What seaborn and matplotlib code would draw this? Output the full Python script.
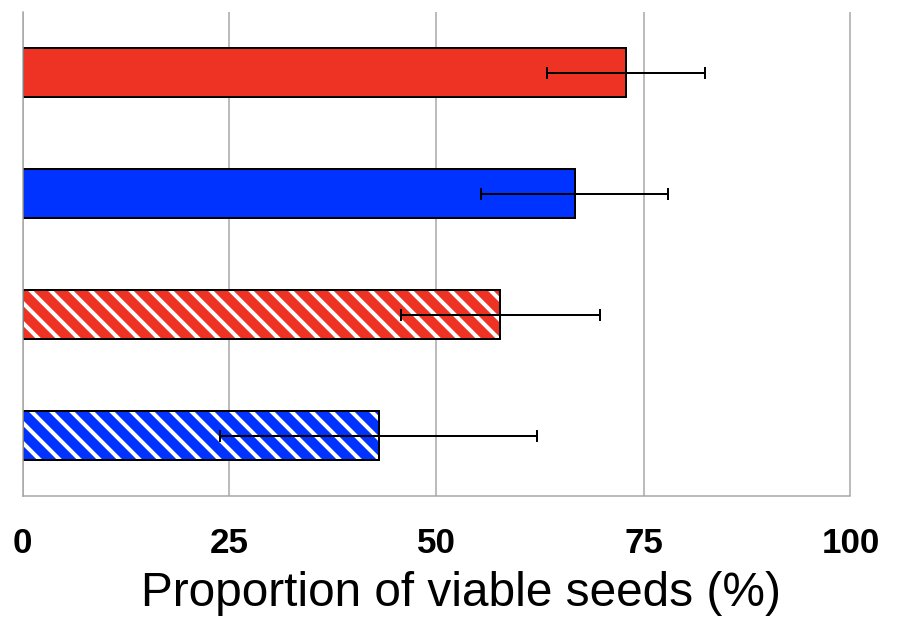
import matplotlib
matplotlib.use("Agg")
import matplotlib.pyplot as plt
import pandas as pd
import seaborn as sns

# Mean proportion of viable seeds per group, with error half-widths
groups = ["Red, untreated", "Blue, untreated", "Red, treated", "Blue, treated"]
viable = [72.9, 66.7, 57.7, 43.0]
err = [9.5, 11.3, 12.0, 19.1]
colors = ["#EE3224", "#0033FF", "#EE3224", "#0033FF"]
hatched = [False, False, True, True]
xticks = [0, 25, 50, 75, 100]
xlabel = "Proportion of viable seeds (%)"

DPI = 120
W, H = 897, 618
GRAY = "#A6A6A6"


def pt(px):
    """Convert a size in output pixels to points."""
    return px * 72 / DPI


sns.set_theme(style="white")
plt.rcParams["font.family"] = ["Liberation Sans", "DejaVu Sans"]
plt.rcParams["hatch.linewidth"] = pt(4.0)
plt.rcParams["text.color"] = "black"
plt.rcParams["axes.labelcolor"] = "black"

fig = plt.figure(figsize=(W / DPI, H / DPI), dpi=DPI)
ax = fig.add_axes([22.5 / W, 122 / H, 828 / W, 484 / H])

df = pd.DataFrame({"group": groups, "viable": viable})
sns.barplot(data=df, x="viable", y="group", hue="group", palette=colors,
            saturation=1, width=0.4, orient="h", legend=False, ax=ax,
            edgecolor="black", linewidth=pt(2), zorder=2)

# Striped bars: white diagonal hatch over the fill, black outline on top
for cont, h in zip(ax.containers, hatched):
    if not h:
        continue
    for bar in cont:
        bar.set_hatch("\\\\")
        bar.set_edgecolor("white")
        bar.set_linewidth(0)
        ax.add_patch(plt.Rectangle(bar.get_xy(), bar.get_width(), bar.get_height(),
                                   fill=False, edgecolor="black", linewidth=pt(2),
                                   zorder=2.5))

ax.errorbar(viable, range(len(groups)), xerr=err, fmt="none", ecolor="black",
            elinewidth=pt(2), capsize=pt(6), capthick=pt(2), zorder=3)

ax.set_xlim(0, 100)
ax.set_ylim(len(groups) - 0.5, -0.5)
ax.set_xticks(xticks)
ax.set_xticklabels([str(t) for t in xticks], fontsize=pt(35), fontweight="bold",
                   color="black")
ax.set_yticks([i - 0.5 for i in range(len(groups) + 1)])
ax.set_yticklabels([])
ax.set_ylabel("")
ax.set_xlabel(xlabel, fontsize=pt(47.8), color="black")
ax.xaxis.set_label_coords(0.53, -0.155)

ax.set_axisbelow(True)
ax.grid(axis="x", color=GRAY, linewidth=pt(1.5))
ax.grid(axis="y", visible=False)
ax.tick_params(axis="both", direction="out", length=pt(10), width=pt(1.5), color=GRAY)
ax.tick_params(axis="x", pad=pt(21))
for side in ("top", "right"):
    ax.spines[side].set_visible(False)
for side in ("left", "bottom"):
    ax.spines[side].set_color(GRAY)
    ax.spines[side].set_linewidth(pt(1.5))

fig.savefig("out.png", dpi=DPI, facecolor="white")
